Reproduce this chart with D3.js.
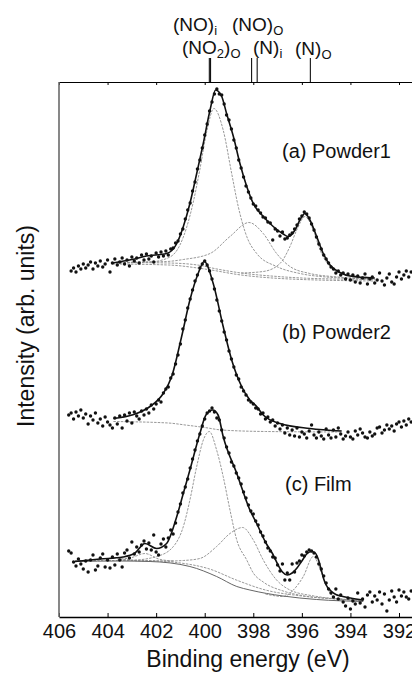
<!DOCTYPE html>
<html>
<head>
<meta charset="utf-8">
<script src="https://cdn.jsdelivr.net/npm/d3@7"></script>
<style>
  body { margin: 0; background: #fff; }
  svg text { font-family: "Liberation Sans", Arial, sans-serif; fill: #111; }
</style>
</head>
<body>
<div id="chart"></div>
<script>
// ---- data (binding energy in eV, intensity in arb. units, offsets included) ----
const energyTicks = [406, 404, 402, 400, 398, 396, 394, 392];
const dotStep = 0.1;

// (a) Powder1 measured points, from 405.5 eV downwards
const aStart = 405.5;
const aDots = [
  69.2,69.8,69.0,70.2,69.6,70.6,69.8,70.4,71.0,69.6,
  70.8,70.2,71.2,70.0,70.6,71.4,69.0,70.8,71.6,70.4,
  71.0,71.8,70.6,71.4,70.2,72.0,71.2,71.8,70.8,72.4,
  71.4,72.6,71.6,72.2,71.0,72.8,72.0,73.0,72.2,73.2,
  72.4,73.6,73.8,74.8,75.2,76.6,77.6,79.6,81.4,82.8,
  85.2,87.0,89.6,91.4,93.8,96.4,98.6,101.2,103.0,104.6,
  105.6,104.6,104.4,102.6,100.4,99.4,97.6,95.4,93.8,91.4,
  89.8,88.0,86.2,85.0,83.8,82.6,82.2,81.4,80.8,80.0,
  79.8,79.0,78.8,75.4,77.6,77.2,76.2,77.0,75.6,75.8,
  76.4,76.8,77.6,78.4,79.6,80.2,81.0,80.6,79.8,78.6,
  77.4,76.0,74.6,73.6,72.4,71.6,70.8,70.0,69.6,68.8,
  69.2,68.4,68.8,67.6,68.6,67.4,68.4,67.0,68.2,66.8,
  67.8,68.6,66.6,67.6,68.0,66.8,67.4,68.8,67.2,66.4,
  67.8,68.6,67.0,66.6,68.0,69.0,67.6,68.4,69.2,68.0,
  69.0
];
const aFit = [[403.8,70.8],[403.0,71.5],[402.4,72.2],[401.57,72.7],[401.15,74.7],[400.88,78.1],[400.61,82.7],[400.33,88.7],[400.06,94.7],[399.78,101.4],[399.55,105.4],[399.3,104.1],[399.1,100.7],[398.82,96.1],[398.55,90.7],[398.27,86.1],[398.0,82.7],[397.59,80.1],[397.18,78.1],[396.77,76.6],[396.56,76.1],[396.28,77.4],[396.08,79.4],[395.87,80.7],[395.67,79.4],[395.39,76.1],[395.12,72.7],[394.84,70.4],[394.43,68.9],[394.02,68.2],[393.0,67.8]];
const aNOi = [[403.8,70.8],[402.25,71.0],[401.43,72.0],[401.02,74.4],[400.74,78.0],[400.47,83.0],[400.2,89.5],[399.92,97.0],[399.62,101.7],[399.24,97.4],[398.89,88.7],[398.62,82.1],[398.27,76.1],[397.86,72.7],[397.04,70.1],[396.08,68.7],[395.0,68.0],[393.0,67.6]];
const aNOo = [[403.8,70.9],[402.5,71.0],[401.57,71.1],[400.88,71.5],[399.78,72.7],[398.96,76.1],[398.18,78.9],[397.59,76.7],[397.04,72.7],[396.49,70.1],[395.67,68.7],[394.5,68.0],[393.0,67.6]];
const aNo = [[398.5,68.8],[397.59,69.1],[396.9,70.7],[396.49,74.1],[396.21,77.4],[395.87,80.1],[395.53,77.4],[395.25,73.4],[394.84,70.1],[394.3,68.7],[393.0,67.8]];
const aBg1 = [[403.8,70.9],[401.5,70.8],[400.3,70.4],[399.5,69.6],[398.5,68.8],[397.0,68.1],[395.5,67.7],[393.0,67.5]];
const aBg2 = [[403.8,70.6],[401.5,70.4],[400.0,69.6],[398.5,68.4],[396.5,67.6],[393.0,67.2]];

// (b) Powder2
const bStart = 405.6;
const bDots = [
  40.4,40.8,39.6,41.0,40.2,41.4,39.8,40.6,38.6,40.2,
  39.4,40.8,38.8,39.6,38.2,40.0,39.0,38.4,37.8,39.8,
  38.6,40.2,37.8,40.4,39.2,40.8,38.8,41.0,40.2,39.6,
  41.2,40.4,41.6,40.8,42.4,41.6,42.6,43.4,43.0,44.8,
  45.6,46.0,47.8,48.6,50.6,52.4,54.6,57.6,59.4,61.8,
  63.6,65.4,67.2,68.4,69.8,70.6,71.2,70.4,69.2,67.6,
  65.6,63.4,61.2,59.2,57.0,55.4,53.2,51.6,50.0,48.4,
  47.6,46.0,45.2,44.4,43.4,43.0,42.6,41.8,41.6,40.6,
  40.8,39.6,40.0,39.0,39.4,38.2,38.8,37.6,38.4,36.8,
  37.8,36.4,37.4,36.2,37.8,36.0,37.0,36.6,35.8,37.2,
  38.4,36.4,35.8,37.0,36.2,35.6,37.6,36.4,35.8,37.4,
  36.0,37.8,36.6,35.6,36.2,37.0,36.0,35.6,37.2,36.4,
  37.6,36.8,36.0,35.8,37.0,36.2,36.6,37.8,38.0,36.8,
  37.4,38.4,37.6,38.2,37.2,38.6,39.0,38.0,39.2,38.4,
  39.6,39.0
];
const bFit = [[403.76,39.7],[403.0,40.4],[402.25,42.1],[401.71,44.7],[401.36,48.1],[400.95,56.1],[400.61,63.4],[400.27,68.7],[400.02,71.1],[399.65,66.7],[399.24,58.1],[398.89,51.4],[398.48,46.1],[398.14,43.4],[397.86,42.1],[397.59,40.4],[396.9,38.7],[395.67,37.7],[394.36,37.2]];
const bBg = [[403.76,39.1],[401.5,38.8],[400.8,38.4],[400.0,37.9],[399.3,37.4],[397.5,37.1],[394.36,37.0]];

// (c) Film
const cStart = 405.6;
const cDots = [
  13.2,12.8,11.0,10.2,11.6,10.6,9.6,11.2,9.0,11.4,
  12.4,9.4,10.2,11.8,12.6,10.0,11.4,9.8,12.0,10.4,
  12.6,11.4,10.0,12.8,13.4,11.8,15.0,12.6,14.0,13.0,
  14.4,15.2,13.6,14.8,13.4,16.4,13.0,12.4,14.6,15.6,
  14.0,15.8,17.4,16.6,18.8,21.0,22.6,24.8,26.0,27.6,
  29.8,31.6,33.4,35.2,36.6,38.2,39.6,40.8,41.2,41.8,
  41.0,39.8,39.4,37.4,35.8,34.0,32.8,31.0,30.2,28.8,
  27.8,26.6,25.0,23.8,22.4,21.2,20.6,19.2,18.4,17.0,
  16.2,15.0,13.8,13.2,12.0,11.8,10.4,9.2,10.6,7.4,
  8.8,7.4,10.6,9.0,10.8,11.2,12.4,12.2,13.0,13.4,
  13.2,12.8,12.0,10.6,9.6,8.2,6.8,5.6,4.8,4.0,
  5.6,3.6,4.4,3.0,2.2,3.8,1.6,3.2,2.6,4.8,
  2.8,3.6,2.0,4.4,5.0,3.0,4.2,3.4,5.0,2.6,
  4.6,1.2,3.4,5.2,4.0,3.0,5.4,4.2,5.0,4.0,
  3.6,5.2
];
const cFit = [[405.34,11.1],[404.31,11.6],[403.37,12.0],[402.87,12.8],[402.46,14.7],[401.98,13.7],[401.57,14.7],[401.15,20.1],[400.9,24.4],[400.61,29.4],[400.2,36.7],[399.95,40.4],[399.67,41.4],[399.45,40.4],[399.24,36.1],[398.68,28.7],[398.14,21.4],[397.86,18.7],[397.48,14.8],[397.2,12.6],[397.0,10.6],[396.8,9.0],[396.6,8.4],[396.4,8.8],[396.2,9.8],[396.0,11.2],[395.8,12.6],[395.6,13.1],[395.45,12.8],[395.3,11.2],[395.2,9.4],[395.1,7.6],[395.0,6.4],[394.8,5.2],[394.6,4.5],[394.4,4.2],[394.0,3.8],[393.47,3.4]];
const cNOi = [[403.5,11.6],[402.94,11.4],[401.98,12.1],[401.29,14.1],[400.88,18.1],[400.61,23.4],[400.33,30.1],[400.05,35.5],[399.81,37.1],[399.51,33.4],[399.24,28.1],[398.96,21.4],[398.68,15.4],[398.27,11.4],[398.0,8.8],[397.59,7.0],[396.77,5.2],[396.0,4.3],[394.5,3.6],[393.47,3.3]];
const cNOo = [[403.5,11.5],[402.5,11.2],[401.5,11.2],[400.88,11.3],[400.2,11.7],[399.51,14.1],[398.96,16.7],[398.44,17.9],[398.0,15.4],[397.59,11.4],[397.04,7.4],[396.49,5.4],[395.5,4.2],[394.5,3.6],[393.47,3.3]];
const cNo = [[397.5,4.6],[396.77,4.1],[396.35,5.4],[395.94,8.1],[395.53,12.1],[395.18,8.7],[394.91,5.4],[394.57,3.7],[394.02,3.4],[393.47,3.3]];
const cHigh = [[403.6,11.6],[403.08,11.8],[402.46,12.7],[401.9,11.6],[401.3,11.2]];
const cBg1 = [[405.34,11.1],[403.5,11.2],[402.25,11.1],[400.61,10.1],[399.51,8.1],[398.68,6.1],[398.14,5.4],[396.78,4.2],[395.39,3.5],[393.47,3.1]];
const cBg2 = [[405.34,11.3],[402.5,11.3],[401.0,10.8],[399.8,9.6],[398.7,7.4],[397.5,5.4],[396.0,4.2],[393.47,3.4]];

// reference positions marked on the top axis
const markerNames = ['(NO)i', '(NO2)O', '(NO)O', '(N)i', '(N)O'];
const markerEnergies = [399.81, 399.76, 398.07, 397.84, 395.65];

const sampleNames = ['(a) Powder1', '(b) Powder2', '(c) Film'];

// ---- layout ----
const width = 412, height = 675;
const plotLeft = 59, plotTop = 82, plotBottom = 617;

const svg = d3.select('#chart').append('svg')
  .attr('width', width)
  .attr('height', height);

const x = d3.scaleLinear().domain([406, 391.465]).range([plotLeft, width]);
const y = d3.scaleLinear().domain([0, 107]).range([plotBottom, plotTop]);

const line = d3.line()
  .x(d => x(d[0]))
  .y(d => y(d[1]))
  .curve(d3.curveMonotoneX);

// components + backgrounds (grey dashed)
const grey = [aNOi, aNOo, aNo, aBg1, aBg2, bBg, cNOi, cNOo, cNo, cHigh, cBg2];
svg.append('g')
  .selectAll('path')
  .data(grey)
  .join('path')
  .attr('d', line)
  .attr('fill', 'none')
  .attr('stroke', '#8c8c8c')
  .attr('stroke-width', 0.9)
  .attr('stroke-dasharray', '2.5,1.2');

svg.append('path')
  .attr('d', line(cBg1))
  .attr('fill', 'none')
  .attr('stroke', '#666')
  .attr('stroke-width', 1);

// measured points
const toPoints = (start, vals) => vals.map((v, i) => [start - i * dotStep, v]);
const allDots = [].concat(toPoints(aStart, aDots), toPoints(bStart, bDots), toPoints(cStart, cDots))
  .filter(d => x(d[0]) <= width + 2);

svg.append('g')
  .selectAll('circle')
  .data(allDots)
  .join('circle')
  .attr('cx', d => x(d[0]))
  .attr('cy', d => y(d[1]))
  .attr('r', 1.7)
  .attr('fill', '#111');

// total fits
svg.append('g')
  .selectAll('path')
  .data([aFit, bFit, cFit])
  .join('path')
  .attr('d', line)
  .attr('fill', 'none')
  .attr('stroke', '#111')
  .attr('stroke-width', 1.6);

// axes
const topAxis = svg.append('g')
  .attr('transform', `translate(0,${plotTop})`)
  .call(d3.axisTop(x).tickValues(energyTicks).tickSizeInner(-3).tickSizeOuter(0).tickFormat(''));
topAxis.select('.domain').attr('stroke-width', 1.2);

const bottomAxis = svg.append('g')
  .attr('transform', `translate(0,${plotBottom})`)
  .call(d3.axisBottom(x).tickValues(energyTicks).tickSizeInner(-4).tickSizeOuter(0).tickPadding(7));
bottomAxis.select('.domain').attr('stroke-width', 1.4);
bottomAxis.selectAll('text')
  .style('font-size', '20px')
  .style('font-family', '"Liberation Sans", Arial, sans-serif')
  .attr('fill', '#111');

svg.append('line')
  .attr('x1', plotLeft).attr('x2', plotLeft)
  .attr('y1', plotTop).attr('y2', plotBottom)
  .attr('stroke', '#6a6a6a')
  .attr('stroke-width', 1.6);

// axis titles
svg.append('text')
  .attr('x', 248).attr('y', 667)
  .attr('text-anchor', 'middle')
  .style('font-size', '23px')
  .text('Binding energy (eV)');

svg.append('text')
  .attr('transform', 'translate(34,326) rotate(-90)')
  .attr('text-anchor', 'middle')
  .style('font-size', '23px')
  .text('Intensity (arb. units)');

// marker sticks above the top axis
svg.append('g')
  .selectAll('line')
  .data(markerEnergies)
  .join('line')
  .attr('x1', d => x(d)).attr('x2', d => x(d))
  .attr('y1', 58).attr('y2', plotTop)
  .attr('stroke', '#111')
  .attr('stroke-width', 1.1);

// marker labels with subscripts: [text, isSub] pieces, start x, baseline
const labelPos = [[173, 31], [182, 54], [232, 31], [253, 54], [295, 55]];
const labelParts = [
  [['(NO)', 0], ['i', 1]],
  [['(NO', 0], ['2', 1], [')', 0], ['O', 1]],
  [['(NO)', 0], ['O', 1]],
  [['(N)', 0], ['i', 1]],
  [['(N)', 0], ['O', 1]]
];
markerNames.forEach((name, i) => {
  const t = svg.append('text')
    .attr('x', labelPos[i][0])
    .attr('y', labelPos[i][1])
    .style('font-size', '19px');
  let shifted = false;
  labelParts[i].forEach(([s, sub]) => {
    const dy = sub && !shifted ? 4 : (!sub && shifted ? -4 : 0);
    shifted = !!sub;
    t.append('tspan')
      .attr('dy', dy)
      .style('font-size', sub ? '13px' : '19px')
      .text(s);
  });
});

// sample labels
const samplePos = [[282, 158], [282, 339], [285, 491]];
svg.append('g')
  .selectAll('text')
  .data(sampleNames)
  .join('text')
  .attr('x', (d, i) => samplePos[i][0])
  .attr('y', (d, i) => samplePos[i][1])
  .style('font-size', '20px')
  .text(d => d);
</script>
</body>
</html>
